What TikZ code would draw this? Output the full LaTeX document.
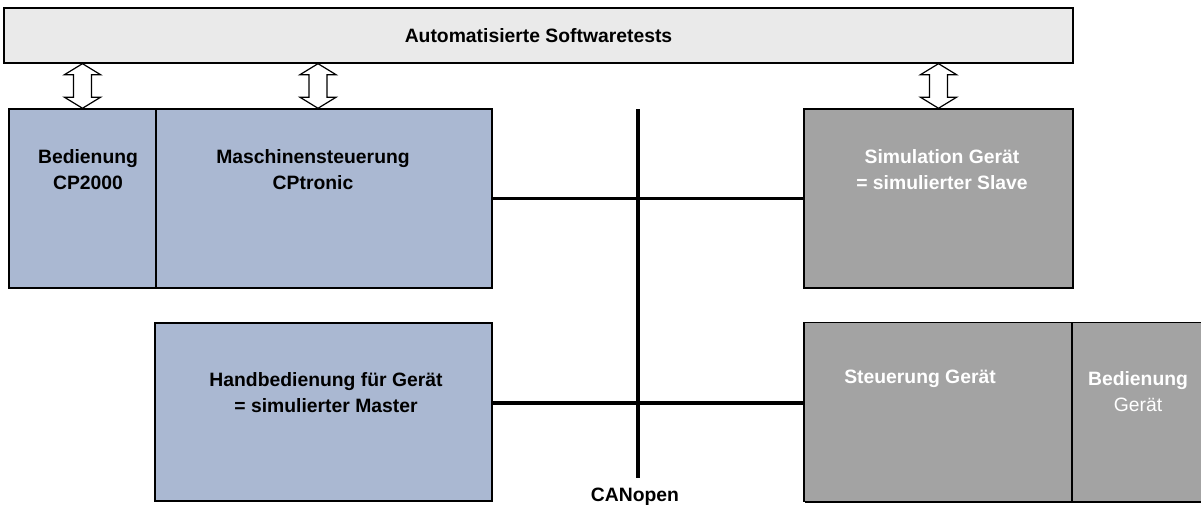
\documentclass[tikz,border=0pt]{standalone}
\usepackage{fontspec}
\setmainfont{Liberation Sans}
\usetikzlibrary{calc,shadows}
\definecolor{boxblue}{HTML}{AAB8D2}
\definecolor{boxgray}{HTML}{A3A3A3}
\definecolor{bargray}{HTML}{EAEAEA}

\begin{document}
\begin{tikzpicture}[x=0.75pt, y=-0.75pt]

\tikzstyle{boxshadow}=[general shadow={fill=black, shadow xshift=0.9pt, shadow yshift=-1.1pt}]
\tikzstyle{bluebox}=[draw, line width=1.1pt, fill=boxblue, boxshadow, minimum height=134.25pt, inner sep=0pt]
\tikzstyle{graybox}=[draw, line width=1.1pt, fill=boxgray, boxshadow, minimum height=134.25pt, inner sep=0pt]
\tikzstyle{txt}=[font=\fontsize{14.5}{19.5}\selectfont\bfseries, align=center, inner sep=0pt]
\tikzstyle{wtxt}=[txt, text=white]
\tikzstyle{bus}=[line width=2.6pt]
\tikzstyle{blockarrow}=[draw, line width=0.9pt, fill=white, to path={
  let \p1=(\tikztostart), \p2=(\tikztotarget) in
  (\x1,\y1) -- (\x1+13.5pt,\y1-8.25pt) -- (\x1+6.75pt,\y1-8.25pt) -- (\x1+6.75pt,\y2+8.25pt)
  -- (\x1+13.5pt,\y2+8.25pt) -- (\x2,\y2) -- (\x1-13.5pt,\y2+8.25pt) -- (\x1-6.75pt,\y2+8.25pt)
  -- (\x1-6.75pt,\y1-8.25pt) -- (\x1-13.5pt,\y1-8.25pt) -- cycle}]

\useasboundingbox (0,0) rectangle (1201,511);

% Top: test bar
\node[draw, line width=1pt, fill=bargray, minimum width=801.75pt, minimum height=41.25pt, txt] (tests) at (538.5,35.5) {Automatisierte Softwaretests};

% Upper row: machine side and simulated slave
\node[bluebox, minimum width=110.25pt] (cp) at (82.5,198.5) {};
\node[bluebox, minimum width=252pt] (cpt) at (324,198.5) {};
\node[graybox, minimum width=201.75pt] (sim) at (938.5,198.5) {};

\node[txt] (cptxt) at ([shift={(5.5,61)}]cp.north) {Bedienung\\CP2000};
\node[txt] (cpttxt) at ([shift={(-11,61)}]cpt.north) {Maschinensteuerung\\CPtronic};
\node[wtxt] (simtxt) at ([shift={(3.5,61)}]sim.north) {Simulation Gerät\\= simulierter Slave};

% Lower row: simulated master and device
\node[bluebox, minimum width=252.75pt, minimum height=133.5pt] (hand) at (323.5,412) {};
\node[graybox, minimum width=201pt] (strg) at (938,412) {};
\node[graybox, minimum width=103.5pt] (bedg) at (1141,412) {};

\node[txt] (handtxt) at ([shift={(2.5,70)}]hand.north) {Handbedienung für Gerät\\= simulierter Master};
\node[wtxt] (strgtxt) at ([shift={(-18,57)}]strg.north) {Steuerung Gerät};
\node[wtxt] (bedgtxt) at ([shift={(-3,70)}]bedg.north) {Bedienung\\{\mdseries Gerät}};

% CANopen bus
\coordinate (bustop) at (638,109);
\coordinate (busbot) at (638,478);
\draw[line width=3.6pt] (bustop) -- (busbot);
\node[txt] (can) at ([shift={(-3,19)}]busbot) {CANopen};

\draw[bus] (cpt.east) -- (sim.west);
\draw[bus] ([yshift=6.75pt]hand.east) -- ([yshift=6.75pt]strg.west);

% Test access
\coordinate (cpttop) at ([xshift=-4.5pt]cpt.north);
\draw[blockarrow] (tests.south -| cp.north) to (cp.north);
\draw[blockarrow] (tests.south -| cpttop) to (cpttop);
\draw[blockarrow] (tests.south -| sim.north) to (sim.north);

\end{tikzpicture}
\end{document}
